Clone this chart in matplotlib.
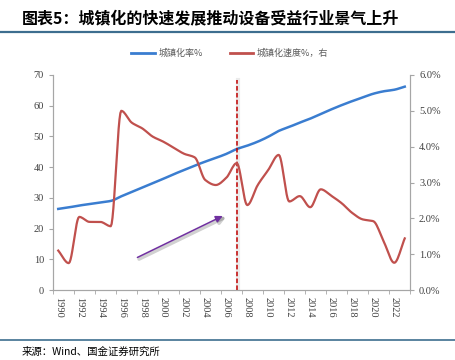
import numpy as np
import matplotlib
matplotlib.use('Agg')
from matplotlib import pyplot as plt
from matplotlib.lines import Line2D
import matplotlib.patheffects as pe

plt.rcParams['font.family'] = ['Noto Sans CJK SC', 'DejaVu Sans']

years = list(range(1990, 2024))
urban_rate = [26.4, 26.9, 27.5, 28.0, 28.5, 29.0, 30.5, 31.9, 33.4, 34.8,
              36.2, 37.7, 39.1, 40.5, 41.8, 43.0, 44.3, 45.9, 47.0, 48.3,
              49.9, 51.8, 53.1, 54.5, 55.8, 57.3, 58.8, 60.2, 61.5, 62.7,
              63.9, 64.7, 65.2, 66.2]
urban_speed = [1.10, 0.75, 2.04, 1.90, 1.90, 1.78, 5.00, 4.67, 4.51, 4.28,
               4.14, 3.97, 3.80, 3.70, 3.07, 2.93, 3.13, 3.54, 2.37, 2.93,
               3.35, 3.77, 2.47, 2.62, 2.31, 2.81, 2.63, 2.42, 2.15, 1.97,
               1.92, 1.35, 0.76, 1.44]
tick_years = list(range(1990, 2024, 2))

BLUE = '#3A7DD0'
RED = '#C0504D'
GREY = '#A6A6A6'

fig = plt.figure(figsize=(4.55, 3.6), dpi=100)
ax = fig.add_axes([53 / 455, 70 / 360, 357 / 455, 215 / 360])
ax2 = ax.twinx()


# smoothed line like the source chart (monotone cubic, no overshoot)
def smooth(x, y, n=12):
    x = np.asarray(x, float)
    y = np.asarray(y, float)
    d = np.diff(y) / np.diff(x)
    m = np.zeros_like(y)
    m[0], m[-1] = d[0], d[-1]
    for i in range(1, len(y) - 1):
        if d[i - 1] * d[i] > 0:
            m[i] = 2 / (1 / d[i - 1] + 1 / d[i])
    xs, ys = [], []
    for i in range(len(x) - 1):
        h = x[i + 1] - x[i]
        t = np.linspace(0, 1, n, endpoint=False)
        v = (2 * t**3 - 3 * t**2 + 1) * y[i] + (t**3 - 2 * t**2 + t) * h * m[i] \
            + (-2 * t**3 + 3 * t**2) * y[i + 1] + (t**3 - t**2) * h * m[i + 1]
        xs.extend(x[i] + t * h)
        ys.extend(v)
    xs.append(x[-1])
    ys.append(y[-1])
    return np.array(xs), np.array(ys)


bx, by = smooth(years, urban_rate)
rx, ry = smooth(years, urban_speed)
ax.plot(bx, by, color=BLUE, lw=1.8, zorder=3)
ax2.plot(rx, ry, color=RED, lw=1.6, zorder=3)

ax.set_xlim(1989.5, 2023.5)
ax.set_ylim(0, 70)
ax2.set_ylim(0, 6)
ax.set_yticks(range(0, 71, 10))
ax2.set_yticks(np.arange(0, 6.01, 1))
ax2.set_yticklabels(['%.1f%%' % v for v in np.arange(0, 6.01, 1)])

ax.set_xticks(tick_years)
ax.set_xticklabels([str(y) for y in tick_years], rotation=-90)
ax.set_xticks(np.arange(1989.5, 2024, 2), minor=True)
ax.tick_params(axis='x', which='major', length=0, pad=5)
ax.tick_params(axis='x', which='minor', length=3, direction='out', color=GREY)

for a in (ax, ax2):
    for s in a.spines.values():
        s.set_color(GREY)
    a.spines['top'].set_visible(False)
    a.tick_params(axis='y', length=3, color=GREY, labelsize=7.5)
    for lbl in a.get_yticklabels() + a.get_xticklabels():
        lbl.set_fontfamily('Liberation Serif')
        lbl.set_fontsize(7.5)
        lbl.set_color('#404040')

# vertical dashed marker at 2007 with soft shadow
ax.axvline(2007.12, ymin=0, ymax=0.975, color='#000000', lw=3, alpha=0.08, zorder=3.5)
ax.axvline(2007, ymin=0, ymax=0.975, color='#C00000', lw=1.1, ls=(0, (3, 1.5)), zorder=4)

# purple arrow with soft shadow
ax.annotate('', xy=(2005.9, 24.5), xytext=(1997.3, 10.2),
            arrowprops=dict(arrowstyle='-|>', color='#7030A0', lw=1.1, mutation_scale=10,
                            path_effects=[pe.SimpleLineShadow(offset=(1.2, -1.2), alpha=0.18,
                                                              linewidth=2.5), pe.Normal()]),
            zorder=5)

# legend
handles = [Line2D([], [], color=BLUE, lw=2), Line2D([], [], color=RED, lw=2)]
leg = fig.legend(handles, ['城镇化率%', '城镇化速度%，右'], loc='center',
                 bbox_to_anchor=(0.505, 1 - 53 / 360), ncol=2, frameon=False, fontsize=6.5,
                 handlelength=2.6, columnspacing=3, handletextpad=0.4, labelcolor='#595959')

# title, rules and source
fig.text(22 / 455, 1 - 18 / 360, '图表5：城镇化的快速发展推动设备受益行业景气上升',
         fontsize=11.5, fontweight='bold', va='center', ha='left')
fig.add_artist(Line2D([0, 1], [1 - 32 / 360] * 2, color='#3D6E8F', lw=1.6))
fig.add_artist(Line2D([0, 1], [1 - 340 / 360] * 2, color='#3D6E8F', lw=1.2))
fig.text(22 / 455, 1 - 352 / 360, '来源：Wind、国金证券研究所', fontsize=7.5, va='center', ha='left')

fig.savefig('out.png', dpi=100)
